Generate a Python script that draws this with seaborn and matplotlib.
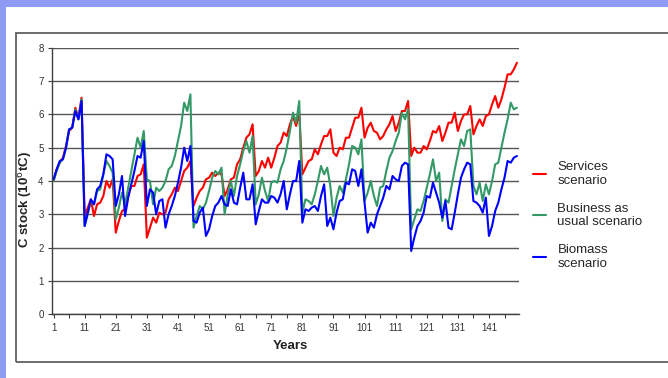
import numpy as np
import pandas as pd
import matplotlib
matplotlib.use("Agg")
import matplotlib.pyplot as plt
from matplotlib.patches import Rectangle
import seaborn as sns

# C stock per year (10^6 tC)
years = list(range(1, 151))

services = [
    4.0, 4.35, 4.55, 4.7, 5.05, 5.5, 5.6, 6.2, 5.9, 6.5,
    2.95, 3.2, 3.45, 2.95, 3.3, 3.35, 3.55, 4.0, 3.8, 4.05,
    2.45, 2.8, 3.1, 3.15, 3.55, 3.85, 3.85, 4.15, 4.2, 4.5,
    2.3, 2.6, 2.9, 2.75, 3.05, 3.0, 3.05, 3.45, 3.6, 3.8, 3.7, 4.0, 4.3, 4.4, 4.6,
    3.25, 3.5, 3.7, 3.8, 4.05, 4.1, 4.25, 4.15, 4.25, 4.2,
    3.55, 3.75, 4.05, 4.1, 4.5, 4.65, 5.0, 5.3, 5.4, 5.7,
    4.15, 4.3, 4.6, 4.4, 4.7, 4.4, 4.7, 5.05, 5.15, 5.45, 5.35, 5.7, 5.95, 5.65, 6.05,
    4.2, 4.4, 4.6, 4.65, 4.95, 4.8, 5.1, 5.35, 5.35, 5.55,
    4.85, 4.75, 5.0, 4.95, 5.3, 5.3, 5.6, 5.9, 5.9, 6.2,
    5.3, 5.6, 5.75, 5.5, 5.45, 5.25, 5.35, 5.55, 5.7, 5.95, 5.5, 5.75, 6.1, 6.1, 6.4,
    4.75, 5.0, 4.85, 4.85, 5.05, 4.95, 5.2, 5.5, 5.45, 5.65,
    5.2, 5.45, 5.75, 5.75, 6.05, 5.5, 5.8, 6.0, 6.0, 6.25,
    5.4, 5.65, 5.85, 5.65, 5.95, 6.0, 6.3, 6.55, 6.2, 6.45, 6.8, 7.2, 7.2, 7.35, 7.55,
]

business = [
    4.0, 4.3, 4.55, 4.65, 5.0, 5.55, 5.6, 6.15, 5.85, 6.45,
    2.65, 3.0, 3.4, 3.3, 3.7, 3.75, 4.2, 4.6, 4.45, 4.25,
    2.85, 3.2, 3.65, 3.3, 3.8, 4.3, 4.8, 5.3, 5.0, 5.5,
    4.05, 4.0, 3.3, 3.8, 3.7, 3.8, 4.0, 4.35, 4.45, 4.75, 5.2, 5.65, 6.35, 6.1, 6.6,
    2.6, 2.95, 3.25, 3.15, 3.35, 3.7, 4.1, 4.3, 4.2, 4.4,
    3.0, 3.6, 4.0, 3.55, 4.15, 4.5, 4.9, 5.2, 4.85, 5.35,
    3.3, 3.6, 4.1, 3.7, 3.4, 3.95, 4.0, 3.95, 4.35, 4.6, 5.0, 5.5, 6.05, 5.75, 6.4,
    3.05, 3.45, 3.4, 3.3, 3.6, 4.0, 4.45, 4.2, 4.4, 3.85,
    2.95, 3.5, 3.85, 3.65, 4.05, 4.5, 5.05, 5.0, 4.8, 5.25,
    3.4, 3.65, 4.0, 3.55, 3.25, 3.8, 3.85, 4.3, 4.7, 4.9, 5.2, 5.45, 6.05, 5.85, 6.15,
    2.55, 2.85, 3.15, 3.1, 3.4, 3.8, 4.2, 4.65, 4.0, 4.25,
    2.8, 3.45, 3.35, 3.85, 4.35, 4.8, 5.25, 5.05, 5.5, 5.55,
    3.85, 3.6, 3.95, 3.4, 3.9, 3.6, 4.0, 4.5, 4.55, 5.0, 5.45, 5.85, 6.35, 6.15, 6.2,
]

biomass = [
    4.05, 4.35, 4.6, 4.65, 5.0, 5.55, 5.6, 6.1, 5.85, 6.4,
    2.65, 3.05, 3.45, 3.3, 3.75, 3.85, 4.2, 4.8, 4.75, 4.65,
    3.25, 3.6, 4.15, 2.95, 3.5, 3.9, 4.3, 4.75, 4.7, 5.2,
    3.25, 3.75, 3.65, 3.0, 3.4, 3.45, 2.6, 3.0, 3.25, 3.55, 3.95, 4.4, 5.0, 4.6, 5.05,
    2.8, 2.75, 3.05, 3.2, 2.35, 2.55, 2.95, 3.25, 3.35, 3.55,
    3.3, 3.25, 3.75, 3.35, 3.3, 3.8, 4.25, 3.45, 3.45, 3.9,
    2.7, 3.1, 3.45, 3.35, 3.35, 3.55, 3.5, 3.35, 3.6, 4.0, 3.15, 3.6, 4.0, 4.0, 4.6,
    2.75, 3.15, 3.1, 3.2, 3.25, 3.1, 3.55, 3.9, 2.65, 2.9,
    2.55, 3.05, 3.4, 3.45, 3.95, 3.9, 4.35, 4.3, 3.85, 4.35,
    3.35, 2.45, 2.75, 2.6, 3.0, 3.25, 3.5, 3.85, 3.75, 4.15, 4.05, 4.0, 4.45, 4.55, 4.5,
    1.9, 2.3, 2.65, 2.8, 3.05, 3.55, 3.5, 3.95, 3.65, 3.35,
    2.9, 3.4, 2.6, 2.55, 3.05, 3.6, 4.1, 4.35, 4.55, 4.5,
    3.4, 3.35, 3.25, 3.05, 3.5, 2.35, 2.65, 3.1, 3.35, 3.75, 4.1, 4.6, 4.55, 4.7, 4.75,
]

scenarios = ["Services\nscenario", "Business as\nusual scenario", "Biomass\nscenario"]
colors = ["#ff0000", "#339966", "#0000ff"]
xtick_years = list(range(1, 150, 10))

df = pd.concat([
    pd.DataFrame({"year": years, "stock": vals, "scenario": name})
    for name, vals in zip(scenarios, [services, business, biomass])
])

sns.set_theme(style="white")
plt.rcParams["font.family"] = ["Liberation Sans", "DejaVu Sans"]

fig = plt.figure(figsize=(6.68, 3.78), dpi=100)
fig.patch.set_facecolor("white")

# dotted blue frame strips and the grey chart-area border
fig.add_artist(Rectangle((0, 0), 6 / 668, 1, transform=fig.transFigure,
                         facecolor="#8d9bf3", edgecolor="none", zorder=0))
fig.add_artist(Rectangle((0, 1 - 7 / 378), 1, 7 / 378, transform=fig.transFigure,
                         facecolor="#8d9bf3", edgecolor="none", zorder=0))
fig.add_artist(Rectangle((16 / 668, 1 - 362 / 378), 2, (362 - 33) / 378,
                         transform=fig.transFigure, facecolor="none",
                         edgecolor="#606060", linewidth=1.3, zorder=1))

ax = fig.add_axes([52 / 668, 1 - 314.3 / 378, 466.5 / 668, 266.6 / 378])
ax.set_facecolor("white")

sns.lineplot(data=df, x="year", y="stock", hue="scenario", hue_order=scenarios,
             palette=dict(zip(scenarios, colors)), linewidth=1.5,
             errorbar=None, legend=False, ax=ax)

ax.set_xlim(0.5, 150.5)
ax.set_ylim(0, 8)
ax.set_yticks(range(0, 9))
ax.set_xticks(xtick_years)
ax.set_xticks(list(range(6, 151, 10)), minor=True)
ax.yaxis.grid(True, color="#555555", linewidth=1.0)
ax.set_axisbelow(True)
for side in ["top", "right"]:
    ax.spines[side].set_visible(False)
for side in ["left", "bottom"]:
    ax.spines[side].set_color("#404040")
    ax.spines[side].set_linewidth(1.0)
ax.tick_params(axis="both", which="both", direction="out", length=3,
               width=0.8, color="#404040", labelsize=7, labelcolor="#333333", pad=3)
ax.tick_params(axis="x", which="both", bottom=True)
ax.tick_params(axis="y", left=True)

ax.set_xlabel("Years", fontsize=9.5, fontweight="bold", color="#222222")
ax.set_ylabel("C stock (10$^6$tC)", fontsize=9.5, fontweight="bold", color="#222222")
ax.xaxis.set_label_coords(0.51, -0.095)
ax.yaxis.set_label_coords(-0.037, 0.43)

handles = ax.get_lines()[:3]
fig.legend(handles, scenarios, loc="upper left", bbox_to_anchor=(533 / 668, 1 - 161 / 378),
           frameon=False, fontsize=9.5, handlelength=1.0, handletextpad=0.85,
           labelspacing=1.2, borderpad=0, borderaxespad=0)

fig.savefig("out.png", dpi=100)
